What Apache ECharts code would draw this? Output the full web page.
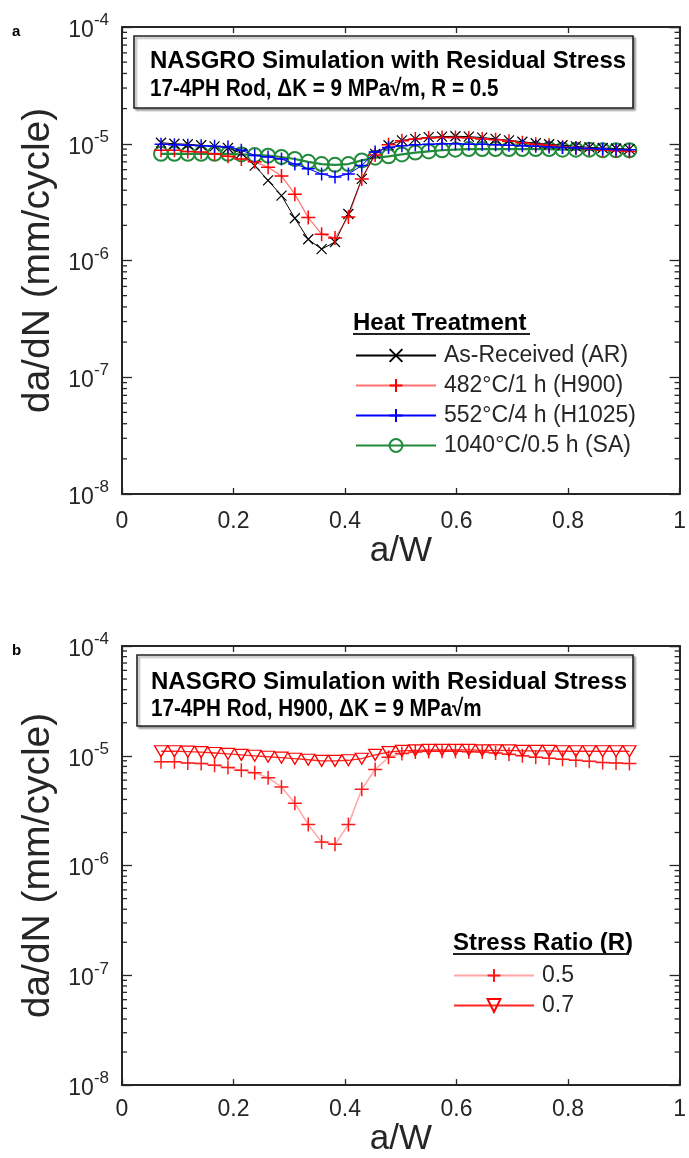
<!DOCTYPE html>
<html>
<head>
<meta charset="utf-8">
<script src="https://cdn.jsdelivr.net/npm/echarts@6/dist/echarts.min.js"></script>
<style>
html, body { margin: 0; padding: 0; background: #fff; }
#chart { width: 689px; height: 1158px; }
</style>
</head>
<body>
<div id="chart"></div>
<script>
// a/W positions of the simulated points
const aW = [0.070, 0.094, 0.118, 0.142, 0.166, 0.190, 0.214, 0.238, 0.262, 0.286, 0.310, 0.334,
            0.358, 0.382, 0.406, 0.430, 0.454, 0.478, 0.502, 0.526, 0.550, 0.574, 0.598, 0.622,
            0.646, 0.670, 0.694, 0.718, 0.742, 0.766, 0.790, 0.814, 0.838, 0.862, 0.886, 0.910];

// panel a: heat treatments, R = 0.5
const asReceived = [1.02e-5, 1.0e-5, 9.9e-6, 9.7e-6, 9.5e-6, 9.2e-6, 8.3e-6, 6.5e-6, 4.85e-6, 3.6e-6, 2.3e-6, 1.52e-6,
                    1.25e-6, 1.44e-6, 2.5e-6, 5.0e-6, 8.2e-6, 9.7e-6, 1.07e-5, 1.1e-5, 1.14e-5, 1.15e-5, 1.16e-5, 1.15e-5,
                    1.13e-5, 1.1e-5, 1.07e-5, 1.04e-5, 1.01e-5, 9.9e-6, 9.7e-6, 9.5e-6, 9.3e-6, 9.2e-6, 9.1e-6, 9.0e-6];
const h900 = [8.8e-6, 8.8e-6, 8.6e-6, 8.5e-6, 8.2e-6, 7.8e-6, 7.4e-6, 7.0e-6, 6.3e-6, 5.3e-6, 3.7e-6, 2.33e-6,
              1.68e-6, 1.56e-6, 2.36e-6, 5.0e-6, 8.0e-6, 9.8e-6, 1.06e-5, 1.1e-5, 1.12e-5, 1.13e-5, 1.13e-5, 1.12e-5,
              1.1e-5, 1.08e-5, 1.05e-5, 1.02e-5, 9.9e-6, 9.7e-6, 9.4e-6, 9.2e-6, 9.0e-6, 8.8e-6, 8.7e-6, 8.6e-6];
const h1025 = [9.9e-6, 9.8e-6, 9.7e-6, 9.6e-6, 9.5e-6, 9.4e-6, 8.8e-6, 7.95e-6, 7.7e-6, 7.4e-6, 6.7e-6, 6.1e-6,
               5.5e-6, 5.2e-6, 5.5e-6, 6.5e-6, 8.5e-6, 9.3e-6, 9.6e-6, 9.8e-6, 9.9e-6, 1.0e-5, 1.0e-5, 9.9e-6,
               9.9e-6, 9.8e-6, 9.7e-6, 9.6e-6, 9.5e-6, 9.4e-6, 9.3e-6, 9.2e-6, 9.1e-6, 9.0e-6, 8.9e-6, 8.9e-6];
const solAnneal = [8.2e-6, 8.2e-6, 8.2e-6, 8.2e-6, 8.2e-6, 8.2e-6, 8.1e-6, 8.0e-6, 7.9e-6, 7.7e-6, 7.4e-6, 7.0e-6,
                   6.7e-6, 6.6e-6, 6.7e-6, 7.2e-6, 7.6e-6, 7.8e-6, 8.1e-6, 8.4e-6, 8.6e-6, 8.8e-6, 8.9e-6, 9.0e-6,
                   9.0e-6, 9.0e-6, 9.0e-6, 9.0e-6, 9.0e-6, 9.0e-6, 8.9e-6, 8.9e-6, 8.9e-6, 8.8e-6, 8.8e-6, 8.8e-6];

// panel b: H900, two stress ratios
const r05 = [8.8e-6, 8.8e-6, 8.6e-6, 8.5e-6, 8.2e-6, 7.8e-6, 7.4e-6, 7.0e-6, 6.3e-6, 5.2e-6, 3.7e-6, 2.36e-6,
             1.64e-6, 1.56e-6, 2.36e-6, 4.95e-6, 7.5e-6, 9.7e-6, 1.05e-5, 1.08e-5, 1.1e-5, 1.1e-5, 1.1e-5, 1.09e-5,
             1.08e-5, 1.06e-5, 1.03e-5, 1.0e-5, 9.7e-6, 9.5e-6, 9.3e-6, 9.1e-6, 8.9e-6, 8.7e-6, 8.6e-6, 8.5e-6];
const r07 = [1.1e-5, 1.1e-5, 1.09e-5, 1.08e-5, 1.06e-5, 1.04e-5, 1.02e-5, 1.0e-5, 9.8e-6, 9.6e-6, 9.4e-6, 9.2e-6,
             9.0e-6, 9.0e-6, 9.1e-6, 9.4e-6, 1.02e-5, 1.08e-5, 1.11e-5, 1.12e-5, 1.13e-5, 1.13e-5, 1.13e-5, 1.13e-5,
             1.12e-5, 1.12e-5, 1.12e-5, 1.11e-5, 1.11e-5, 1.11e-5, 1.1e-5, 1.1e-5, 1.1e-5, 1.1e-5, 1.1e-5, 1.1e-5];

const heatNames = ['As-Received (AR)', '482°C/1 h (H900)', '552°C/4 h (H1025)', '1040°C/0.5 h (SA)'];
const ratioNames = ['0.5', '0.7'];
const minorMantissa = [2, 3, 4, 5, 6, 7, 8, 9];
const decades = [-8, -7, -6, -5];
const minorTicks = [];
decades.forEach(d => minorMantissa.forEach(m => minorTicks.push(m * Math.pow(10, d))));

const FONT = "'Liberation Sans', Arial, Helvetica, sans-serif";
const AX = '#262626';
const CROSS = 'path://M0,0L10,10M10,0L0,10';
const PLUS = 'path://M5,0L5,10M0,5L10,5';
const TRI_DOWN = 'path://M0,0L10,0L5,8.66Z';

const chart = echarts.init(document.getElementById('chart'));

function xAxes(gi, margin, gap) {
  const base = {
    gridIndex: gi, type: 'value', min: 0, max: 1, interval: 0.2,
    axisLine: { show: true, onZero: false, lineStyle: { color: AX, width: 2 } },
    axisTick: { inside: true, length: 6, lineStyle: { color: AX, width: 1.3 } },
    splitLine: { show: false }
  };
  return [
    Object.assign({}, base, {
      position: 'bottom',
      axisLabel: { fontFamily: FONT, fontSize: 23, color: AX, margin: margin },
      name: 'a/W', nameLocation: 'middle', nameGap: gap,
      nameTextStyle: { fontFamily: FONT, fontSize: 35, color: AX }
    }),
    Object.assign({}, base, { position: 'top', axisLabel: { show: false } })
  ];
}

function yAxes(gi) {
  const base = {
    gridIndex: gi, type: 'log', logBase: 10, min: 1e-8, max: 1e-4,
    axisLine: { show: true, onZero: false, lineStyle: { color: AX, width: 2 } },
    axisTick: { inside: true, length: 10, lineStyle: { color: AX, width: 1.3 } },
    splitLine: { show: false }
  };
  return [
    Object.assign({}, base, {
      position: 'left',
      axisLabel: {
        margin: 13, color: AX,
        formatter: v => '{b|10}{s|' + Math.round(Math.log10(v)) + '}',
        rich: {
          b: { fontFamily: FONT, fontSize: 23, color: AX, lineHeight: 30, verticalAlign: 'bottom' },
          s: { fontFamily: FONT, fontSize: 17, color: AX, lineHeight: 30, verticalAlign: 'top' }
        }
      },
      name: 'da/dN (mm/cycle)', nameLocation: 'middle', nameGap: 62,
      nameTextStyle: { fontFamily: FONT, fontSize: 39, color: AX }
    }),
    Object.assign({}, base, { position: 'right', axisLabel: { show: false } })
  ];
}

function minorTickSeries(gi) {
  return {
    type: 'custom', xAxisIndex: gi * 2, yAxisIndex: gi * 2, silent: true, z: 1, clip: false,
    data: minorTicks.map(v => [0, v]),
    renderItem: (params, api) => {
      const l = api.coord([0, api.value(1)]);
      const r = api.coord([1, api.value(1)]);
      const st = { stroke: AX, lineWidth: 1.3 };
      return { type: 'group', children: [
        { type: 'line', shape: { x1: l[0], y1: l[1], x2: l[0] + 5, y2: l[1] }, style: st },
        { type: 'line', shape: { x1: r[0] - 5, y1: r[1], x2: r[0], y2: r[1] }, style: st }
      ] };
    }
  };
}

function line(name, vals, gi, o) {
  return {
    type: 'line', name: name, xAxisIndex: gi * 2, yAxisIndex: gi * 2, z: o.z,
    data: vals.map((v, i) => [aW[i], v]),
    symbol: o.symbol, symbolSize: o.size, showAllSymbol: true,
    lineStyle: { color: o.line, width: o.width },
    itemStyle: { color: 'rgba(0,0,0,0)', borderColor: o.mark, borderWidth: o.bw },
    emphasis: { disabled: true }
  };
}

const series = [
  line(heatNames[0], asReceived, 0, { symbol: CROSS, size: 10, line: '#000', mark: '#000', width: 1, bw: 1.2, z: 3 }),
  line(heatNames[1], h900, 0, { symbol: PLUS, size: 14, line: 'rgba(255,0,0,0.55)', mark: '#ff0000', width: 1.2, bw: 1.5, z: 4 }),
  line(heatNames[2], h1025, 0, { symbol: PLUS, size: 13, line: '#0000ff', mark: '#0000ff', width: 1, bw: 1.5, z: 5 }),
  line(heatNames[3], solAnneal, 0, { symbol: 'circle', size: 14, line: '#228b3b', mark: '#228b3b', width: 2.2, bw: 2, z: 2 }),
  line(ratioNames[0], r05, 1, { symbol: PLUS, size: 14, line: 'rgba(255,0,0,0.35)', mark: '#ff1a1a', width: 1.5, bw: 1.5, z: 3 }),
  line(ratioNames[1], r07, 1, { symbol: TRI_DOWN, size: [13, 11], line: 'rgba(255,0,0,0.85)', mark: '#ff0000', width: 1.3, bw: 1.3, z: 4 }),
  minorTickSeries(0),
  minorTickSeries(1)
];

const legendBase = {
  orient: 'vertical', itemWidth: 80, itemHeight: 16, itemGap: 7, padding: 0,
  selectedMode: false, textStyle: { fontFamily: FONT, fontSize: 23, color: AX, padding: [0, 0, 0, 3] }
};

function boxText(x, y, str, sx) {
  return { type: 'text', left: x, top: y - 11, z: 101, scaleX: sx || 1,
    style: { text: str, fontFamily: FONT, fontWeight: 'bold', fontSize: 24, fill: '#000', verticalAlign: 'middle' } };
}
function box(x, top, h) {
  return { type: 'rect', z: 100, shape: { x: x, y: top, width: 633 - x, height: h },
    style: { fill: '#fff', stroke: '#222', lineWidth: 1.6, shadowBlur: 2, shadowOffsetX: 2, shadowOffsetY: 2, shadowColor: 'rgba(0,0,0,0.35)' } };
}
function header(x, y, str, w) {
  return [
    { type: 'text', left: x, top: y - 13, z: 101,
      style: { text: str, fontFamily: FONT, fontWeight: 'bold', fontSize: 24, fill: '#000' } },
    { type: 'line', z: 101, shape: { x1: x, y1: y + 10, x2: x + w, y2: y + 10 }, style: { stroke: '#222', lineWidth: 2 } }
  ];
}

chart.setOption({
  animation: false,
  backgroundColor: '#fff',
  grid: [
    { left: 122, right: 3, top: 27, height: 467 },
    { left: 122, right: 3, top: 646, height: 461 }
  ],
  xAxis: xAxes(0, 16, 36).concat(xAxes(1, 13, 24)),
  yAxis: yAxes(0).concat(yAxes(1)),
  legend: [
    Object.assign({}, legendBase, { left: 355, top: 344, data: heatNames }),
    Object.assign({}, legendBase, { left: 453, top: 964, data: ratioNames })
  ],
  graphic: [
    { type: 'text', left: 12, top: 24, style: { text: 'a', fontFamily: FONT, fontWeight: 'bold', fontSize: 15, fill: '#000' } },
    { type: 'text', left: 12, top: 643, style: { text: 'b', fontFamily: FONT, fontWeight: 'bold', fontSize: 15, fill: '#000' } },
    box(134, 36, 72),
    boxText(150, 60, 'NASGRO Simulation with Residual Stress'),
    boxText(150, 88, '17-4PH Rod, ΔK = 9 MPa√m, R = 0.5', 0.86),
    box(137, 655, 71),
    boxText(151, 681, 'NASGRO Simulation with Residual Stress'),
    boxText(151, 708, '17-4PH Rod, H900, ΔK = 9 MPa√m', 0.86)
  ].concat(header(353, 324, 'Heat Treatment', 177), header(453, 944, 'Stress Ratio (R)', 176)),
  series: series
});
</script>
</body>
</html>
